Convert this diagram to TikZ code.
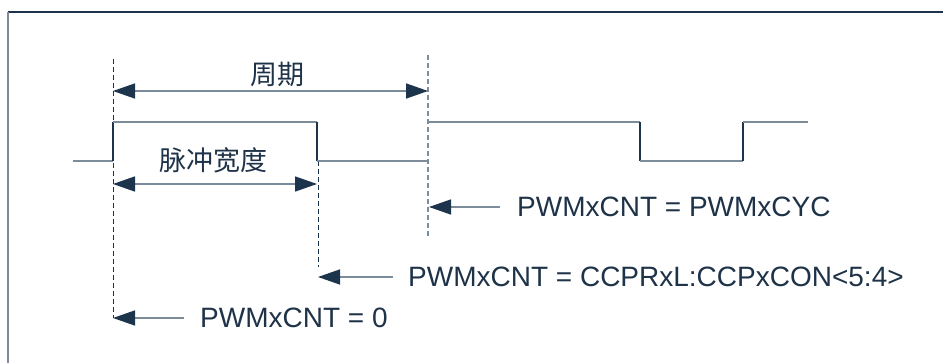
\documentclass[tikz,border=0pt]{standalone}
\usepackage{fontspec}
\setmainfont{Liberation Sans}
\newfontfamily\cjk{Noto Sans CJK SC}
\usetikzlibrary{arrows.meta}
\definecolor{navy}{RGB}{29,52,77}
\definecolor{wave}{RGB}{125,140,155}
\definecolor{txt}{RGB}{30,50,72}
\tikzset{
  waveline/.style={draw=wave,line width=1.5pt},
  edgeline/.style={draw=navy,line width=1.3pt},
  guide/.style={draw=navy,line width=1pt,dash pattern=on 5pt off 3pt},
  guidegray/.style={draw=wave,line width=1.3pt,dash pattern=on 5pt off 3pt},
  bigtip/.tip={Triangle[length=22pt,width=15pt,color=navy,fill=navy]},
  onetip/.style={draw=wave,line width=1.5pt,-bigtip},
  twotip/.style={draw=wave,line width=1.5pt,bigtip-bigtip},
  lbl/.style={font=\fontsize{28}{32}\selectfont,text=txt,inner sep=0pt,anchor=base west},
  cjklbl/.style={font=\cjk\fontsize{27}{30}\selectfont,text=txt,inner sep=0pt}
}
\begin{document}
\begin{tikzpicture}[x=1pt,y=-1pt]
\useasboundingbox (0,0) rectangle (943,363);
% frame
\draw[draw=navy,line width=1.5pt] (8,12) -- (943,12);
\draw[draw=wave,line width=2pt] (8,12) -- (8,363);
% guide coordinates
\coordinate (g1t) at (113,59);
\coordinate (g1b) at (113,318);
\coordinate (g2t) at (318,161);
\coordinate (g2b) at (318,267);
\coordinate (g3t) at (428,55);
\coordinate (g3b) at (428,238);
\draw[guide] (g1t) -- (g1b);
\draw[guide] (g2t) -- (g2b);
\draw[guidegray] (g3t) -- (g3b);
% waveform
\coordinate (w0) at (73,161);
\coordinate (w1) at (113,161);
\coordinate (w2) at (113,122);
\coordinate (w3) at (317,122);
\coordinate (w4) at (317,161);
\coordinate (w5) at (428,161);
\coordinate (w6) at (428,122);
\coordinate (w7) at (640,122);
\coordinate (w8) at (640,161);
\coordinate (w9) at (743,161);
\coordinate (w10) at (743,122);
\coordinate (w11) at (808,122);
\draw[waveline] (w0) -- (w1);
\draw[edgeline] (w1) -- (w2);
\draw[waveline] (w2) -- (w3);
\draw[edgeline] (w3) -- (w4);
\draw[waveline] (w4) -- (w5);
\draw[waveline] (w6) -- (w7);
\draw[edgeline] (w7) -- (w8);
\draw[waveline] (w8) -- (w9);
\draw[edgeline] (w9) -- (w10);
\draw[waveline] (w10) -- (w11);
% period arrow
\coordinate (pa) at (113,91);
\coordinate (pb) at (428,91);
\draw[twotip] (pa) -- (pb);
\node[cjklbl] (period) at (277,74) {周期};
% pulse width arrow
\coordinate (wa) at (113,184);
\coordinate (wb) at (317,184);
\draw[twotip] (wa) -- (wb);
\node[cjklbl] (pw) at (213,160) {脉冲宽度};
% event arrows
\coordinate (e3s) at (500,207);
\coordinate (e3t) at (429,207);
\draw[onetip] (e3s) -- (e3t);
\node[lbl] (l3) at (517,217) {PWMxCNT = PWMxCYC};
\coordinate (e2s) at (393,277);
\coordinate (e2t) at (318,277);
\draw[onetip] (e2s) -- (e2t);
\node[lbl] (l2) at (408,287) {PWMxCNT = CCPRxL:CCPxCON<5:4>};
\coordinate (e1s) at (184,318);
\coordinate (e1t) at (113,318);
\draw[onetip] (e1s) -- (e1t);
\node[lbl] (l1) at (200,328) {PWMxCNT = 0};
\end{tikzpicture}
\end{document}
